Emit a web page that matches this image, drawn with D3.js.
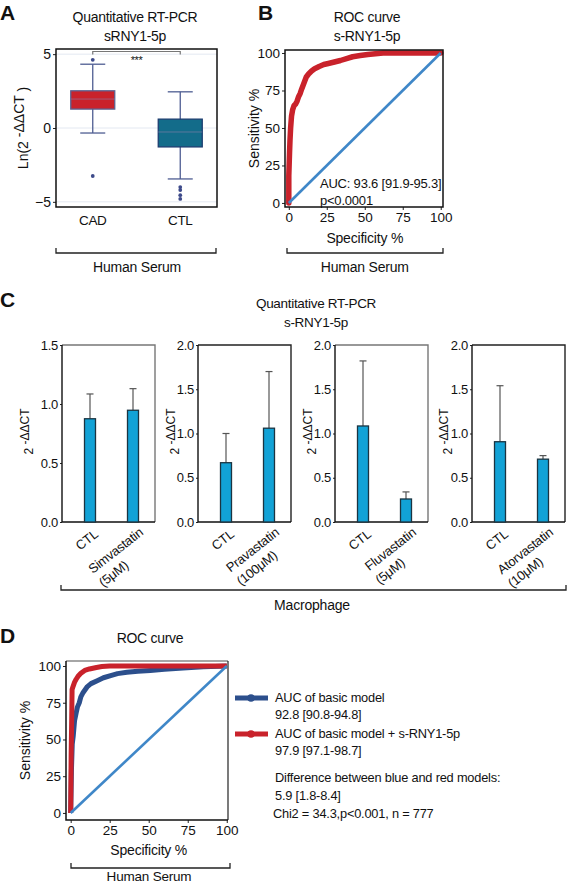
<!DOCTYPE html>
<html><head><meta charset="utf-8">
<script src="https://cdn.jsdelivr.net/npm/d3@7"></script>
<style>
body{margin:0;background:#fff;}
svg text{font-family:"Liberation Sans",Arial,Helvetica,sans-serif;fill:#111;}
</style></head><body>
<svg id="chart" width="568" height="885"></svg>
<script>
// ---------- Panel A : box plot ----------
const boxCategories = ["CAD", "CTL"];
const boxQ1 = [1.28, -1.28];
const boxMedian = [1.96, -0.27];
const boxQ3 = [2.52, 0.6];
const whiskerLow = [-0.34, -3.45];
const whiskerHigh = [4.32, 2.45];
const outliersCAD = [4.62, -3.25];
const outliersCTL = [-4.0, -4.2, -4.55, -4.8];
const boxTicks = [-5, 0, 5];

// ---------- Panel B : ROC ----------
const rocBSpecificity = [0, 0, 0.5, 0.8, 1.2, 1.8, 2.5, 3.5, 4.5, 5.5, 6.5, 7.5, 8.5, 10, 11.5, 13, 15, 17, 20, 23, 26, 30, 34, 38, 42, 47, 52, 57, 62, 70, 80, 90, 95, 100];
const rocBSensitivity = [0, 18, 34, 42, 50, 58, 62, 65, 66, 68, 71, 73, 76, 80, 84, 86, 88, 89.5, 91, 92.3, 93, 94, 95, 96.3, 97.5, 98.3, 99, 99.5, 100, 100, 100, 100, 100, 100];
const rocTicks = [0, 25, 50, 75, 100];
const rocBAnnotation = ["AUC: 93.6 [91.9-95.3]", "p<0.0001"];

// ---------- Panel C : bar charts ----------
const statinNames = ["Simvastatin", "Pravastatin", "Fluvastatin", "Atorvastatin"];
const statinDoses = ["(5μM)", "(100μM)", "(5μM)", "(10μM)"];
const ctlMeans = [0.875, 0.67, 1.085, 0.907];
const ctlErrorTops = [1.085, 1.0, 1.82, 1.54];
const statinMeans = [0.947, 1.06, 0.26, 0.71];
const statinErrorTops = [1.13, 1.70, 0.34, 0.75];
const cYMax = [1.5, 2.0, 2.0, 2.0];

// ---------- Panel D : ROC comparison ----------
const basicSpecificity = [0, 0.5, 1, 1.6, 2.5, 3.5, 4.3, 5.5, 6.5, 8, 10.7, 13, 17, 21, 25.6, 30, 36, 43, 51, 60, 72, 85, 100];
const basicSensitivity = [0, 30, 47, 52, 63, 68, 72, 75, 79, 82, 86, 88, 90, 92, 93.5, 94.8, 95.7, 96.4, 97, 97.8, 98.7, 99.4, 100];
const fullSpecificity = [0, 0.3, 0.6, 0.9, 1.5, 2.5, 3.5, 4.7, 6.5, 9, 12, 16.5, 20, 25, 40, 60, 80, 100];
const fullSensitivity = [0, 40, 60, 84, 86, 89, 91, 93, 95, 97, 98, 99, 99.6, 100, 100, 100, 100, 100];
const legendLabels = ["AUC of basic model", "AUC of basic model + s-RNY1-5p"];
const legendValues = ["92.8 [90.8-94.8]", "97.9 [97.1-98.7]"];
const noteLines = ["Difference between blue and red models:", "5.9 [1.8-8.4]", "Chi2 = 34.3,p<0.001, n = 777"];

// ---------- colours ----------
const RED = "#c9222b", TEAL = "#136c8a", NAVY = "#2c4f8c", DIAG = "#3f87c8", BAR = "#12a2d6";
const FONT = '"Liberation Sans", Arial, Helvetica, sans-serif';

const svg = d3.select("#chart");

function text(g, x, y, s, size, opts = {}) {
  const t = g.append("text").attr("x", x).attr("y", y).text(s)
    .attr("font-size", size).attr("text-anchor", opts.anchor || "start");
  if (opts.weight) t.attr("font-weight", opts.weight);
  if (opts.ls !== undefined) t.attr("letter-spacing", opts.ls);
  return t;
}
function styleAxis(g, size) {
  g.select(".domain").remove();
  g.attr("font-family", FONT);
  g.selectAll(".tick line").attr("stroke", "#222");
  g.selectAll(".tick text").attr("font-size", size).attr("fill", "#111");
}
function bracket(g, x1, x2, y) {
  g.append("path").attr("d", `M${x1},${y - 5}V${y}H${x2}V${y - 5}`)
    .attr("fill", "none").attr("stroke", "#222").attr("stroke-width", 1.3);
}
function rotLabel(g, x, y, parts, size) {
  const t = g.append("text").attr("transform", `translate(${x},${y}) rotate(-90)`)
    .attr("text-anchor", "middle").attr("font-size", size);
  parts.forEach(p => {
    const ts = t.append("tspan").text(p.t);
    if (p.dy) ts.attr("dy", p.dy);
  });
  return t;
}

// ================= Panel A =================
{
  const g = svg.append("g");
  const L = 56, R = 217, T = 49, B = 207;
  const x = d3.scalePoint().domain(boxCategories).range([L, R]).padding(0.42);
  const y = d3.scaleLinear().domain([-5.35, 5.35]).range([B, T]);
  text(g, 0, 20, "A", 21, {weight: "bold"});
  text(g, 135, 22, "Quantitative RT-PCR", 14, {anchor: "middle", ls: -0.3});
  text(g, 135, 41, "sRNY1-5p", 14, {anchor: "middle", ls: -0.3});
  g.selectAll("line.grid").data(boxTicks).join("line").attr("class", "grid")
    .attr("x1", L).attr("x2", R).attr("y1", d => y(d)).attr("y2", d => y(d))
    .attr("stroke", "#e3e8f1").attr("stroke-width", 1);
  const ax = g.append("g").attr("transform", `translate(${L},0)`)
    .call(d3.axisLeft(y).tickValues(boxTicks).tickSize(3).tickPadding(2));
  styleAxis(ax, 14);
  const boxW = 44, capW = 25;
  boxCategories.forEach((c, i) => {
    const cx = x(c);
    const col = i === 0 ? RED : TEAL;
    const wcol = "#4e5d92";
    g.append("line").attr("x1", cx).attr("x2", cx).attr("y1", y(whiskerHigh[i])).attr("y2", y(whiskerLow[i]))
      .attr("stroke", wcol).attr("stroke-width", 1.3);
    [whiskerHigh[i], whiskerLow[i]].forEach(v => g.append("line")
      .attr("x1", cx - capW / 2).attr("x2", cx + capW / 2).attr("y1", y(v)).attr("y2", y(v))
      .attr("stroke", wcol).attr("stroke-width", 1.3));
    g.append("rect").attr("x", cx - boxW / 2).attr("width", boxW)
      .attr("y", y(boxQ3[i])).attr("height", y(boxQ1[i]) - y(boxQ3[i]))
      .attr("fill", col).attr("stroke", i === 0 ? "#5b6391" : "#1d3d70").attr("stroke-width", 1.3);
    g.append("line").attr("x1", cx - boxW / 2).attr("x2", cx + boxW / 2)
      .attr("y1", y(boxMedian[i])).attr("y2", y(boxMedian[i]))
      .attr("stroke", "#8a7fa8").attr("stroke-opacity", 0.6).attr("stroke-width", 1);
  });
  const outl = outliersCAD.map(v => ({c: "CAD", v})).concat(outliersCTL.map(v => ({c: "CTL", v})));
  g.selectAll("circle.out").data(outl).join("circle").attr("class", "out")
    .attr("cx", d => x(d.c)).attr("cy", d => y(d.v)).attr("r", 1.9).attr("fill", "#3d4a8a");
  g.append("rect").attr("x", L).attr("y", T).attr("width", R - L).attr("height", B - T)
    .attr("fill", "none").attr("stroke", "#111").attr("stroke-width", 1.5);
  // significance
  const sy = y(5.18);
  g.append("path").attr("d", `M${x("CAD")},${sy + 3}V${sy}H${x("CTL")}V${sy + 3}`)
    .attr("fill", "none").attr("stroke", "#777").attr("stroke-width", 1.2);
  text(g, (x("CAD") + x("CTL")) / 2, sy + 12, "***", 11, {anchor: "middle", ls: -0.5});
  boxCategories.forEach(c => text(g, x(c), 225, c, 13.5, {anchor: "middle", ls: -0.3}));
  rotLabel(g, 28, (T + B) / 2, [{t: "Ln(2 "}, {t: "-ΔΔCT", dy: "-0.3em"}, {t: " )", dy: "0.3em"}], 14);
  bracket(g, L, R - 1, 253);
  text(g, 137, 272, "Human Serum", 14, {anchor: "middle", ls: -0.2});
}

// ================= Panel B =================
{
  const g = svg.append("g");
  const L = 285, R = 443, T = 50, B = 207;
  const x = d3.scaleLinear().domain([-2.5, 101.5]).range([L, R]);
  const y = d3.scaleLinear().domain([-2.7, 102]).range([B, T]);
  text(g, 258, 20, "B", 21, {weight: "bold"});
  text(g, 367, 22, "ROC curve", 14, {anchor: "middle", ls: -0.3});
  text(g, 367, 41, "s-RNY1-5p", 14, {anchor: "middle", ls: -0.3});
  const ay = g.append("g").attr("transform", `translate(${L},0)`)
    .call(d3.axisLeft(y).tickValues(rocTicks).tickSize(3).tickPadding(2));
  styleAxis(ay, 13.5);
  const axx = g.append("g").attr("transform", `translate(0,${B})`)
    .call(d3.axisBottom(x).tickValues(rocTicks).tickSize(3).tickPadding(2));
  styleAxis(axx, 13.5);
  const pts = rocBSpecificity.map((s, i) => [s, rocBSensitivity[i]]);
  const line = d3.line().x(d => x(d[0])).y(d => y(d[1]));
  g.append("path").attr("d", line(pts)).attr("fill", "none").attr("stroke", RED)
    .attr("stroke-width", 5.5).attr("stroke-linejoin", "round").attr("stroke-linecap", "round");
  g.append("path").attr("d", line([[0, 0], [100, 100]])).attr("fill", "none")
    .attr("stroke", DIAG).attr("stroke-width", 2.6);
  g.append("rect").attr("x", L).attr("y", T).attr("width", R - L).attr("height", B - T)
    .attr("fill", "none").attr("stroke", "#111").attr("stroke-width", 1.5);
  text(g, x(20.5), 188, rocBAnnotation[0], 13, {ls: -0.2});
  text(g, x(20.5), 205, rocBAnnotation[1], 13, {ls: -0.2});
  text(g, x(50), 243, "Specificity %", 14, {anchor: "middle", ls: -0.2});
  rotLabel(g, 259, (T + B) / 2, [{t: "Sensitivity %"}], 14);
  bracket(g, L + 2, R, 253);
  text(g, x(50), 272, "Human Serum", 14, {anchor: "middle", ls: -0.2});
}

// ================= Panel C =================
{
  const g = svg.append("g");
  text(g, 0, 307, "C", 21, {weight: "bold"});
  text(g, 316, 308, "Quantitative RT-PCR", 13.5, {anchor: "middle", ls: -0.3});
  text(g, 316, 327, "s-RNY1-5p", 13.5, {anchor: "middle", ls: -0.3});
  const lefts = [62, 198, 335, 472], W = 93, T = 345, B = 522;
  const labelOff = [-29, -19, -19, -20];
  const frameCol = ["#777", "#222", "#777", "#222"];
  statinNames.forEach((name, i) => {
    const x0 = lefts[i];
    const cats = ["CTL", name];
    const x = d3.scalePoint().domain(cats).range([x0 + 28, x0 + 71]);
    const y = d3.scaleLinear().domain([0, cYMax[i]]).range([B, T]);
    const means = [ctlMeans[i], statinMeans[i]];
    const tops = [ctlErrorTops[i], statinErrorTops[i]];
    const ticks = d3.range(0, cYMax[i] + 0.01, 0.5);
    const ax = g.append("g").attr("transform", `translate(${x0},0)`)
      .call(d3.axisLeft(y).tickValues(ticks).tickFormat(d3.format(".1f")).tickSize(2).tickPadding(2));
    styleAxis(ax, 13);
    ax.selectAll(".tick text").attr("letter-spacing", -0.3);
    // frame
    g.append("path").attr("d", `M${x0},${T}H${x0 + W}V${B}`).attr("fill", "none")
      .attr("stroke", frameCol[i]).attr("stroke-width", 1.4);
    g.append("path").attr("d", `M${x0},${T}V${B}H${x0 + W}`).attr("fill", "none")
      .attr("stroke", "#111").attr("stroke-width", 1.4);
    cats.forEach((c, j) => {
      const cx = x(c);
      g.append("line").attr("x1", cx).attr("x2", cx).attr("y1", y(means[j])).attr("y2", y(tops[j]))
        .attr("stroke", "#555").attr("stroke-width", 1.2);
      g.append("line").attr("x1", cx - 3.5).attr("x2", cx + 3.5).attr("y1", y(tops[j])).attr("y2", y(tops[j]))
        .attr("stroke", "#555").attr("stroke-width", 1.2);
      g.append("rect").attr("x", cx - 5.5).attr("width", 11)
        .attr("y", y(means[j])).attr("height", y(0) - y(means[j]))
        .attr("fill", BAR).attr("stroke", "#1b3441").attr("stroke-width", 1.3);
    });
    // rotated category labels
    const ang = -38;
    const g1 = g.append("g").attr("transform", `translate(${x("CTL") + 9},${B + 14}) rotate(${ang})`);
    g1.append("text").attr("text-anchor", "end").attr("font-size", 13).attr("letter-spacing", -0.2).text("CTL");
    const g2 = g.append("g").attr("transform", `translate(${x(name) + 11},${B + 12}) rotate(${ang})`);
    const t1 = g2.append("text").attr("text-anchor", "end").attr("font-size", 13).attr("letter-spacing", -0.2).text(name);
    const len = t1.node().getComputedTextLength();
    g2.append("text").attr("x", -len).attr("y", 17).attr("font-size", 13).attr("letter-spacing", -0.2).text(statinDoses[i]);
    // y label
    rotLabel(g, x0 + labelOff[i], (T + B) / 2 - 2, [{t: "2 "}, {t: "-ΔΔCT", dy: "-0.35em"}], 12);
  });
  bracket(g, 61, 566, 590);
  text(g, 312, 610, "Macrophage", 14, {anchor: "middle", ls: -0.2});
}

// ================= Panel D =================
{
  const g = svg.append("g");
  const L = 66, R = 228, T = 661, B = 820;
  const x = d3.scaleLinear().domain([-3, 100.8]).range([L, R]);
  const y = d3.scaleLinear().domain([-4.8, 103.4]).range([B, T]);
  text(g, 0, 643, "D", 21, {weight: "bold"});
  text(g, 150, 643, "ROC curve", 14, {anchor: "middle", ls: -0.3});
  const ay = g.append("g").attr("transform", `translate(${L},0)`)
    .call(d3.axisLeft(y).tickValues(rocTicks).tickSize(3).tickPadding(2));
  styleAxis(ay, 13.5);
  const axx = g.append("g").attr("transform", `translate(0,${B})`)
    .call(d3.axisBottom(x).tickValues(rocTicks).tickSize(3).tickPadding(2));
  styleAxis(axx, 13.5);
  const line = d3.line().x(d => x(d[0])).y(d => y(d[1]));
  const basic = basicSpecificity.map((s, i) => [s, basicSensitivity[i]]);
  const full = fullSpecificity.map((s, i) => [s, fullSensitivity[i]]);
  g.append("path").attr("d", line(basic)).attr("fill", "none").attr("stroke", NAVY)
    .attr("stroke-width", 5).attr("stroke-linejoin", "round");
  g.append("path").attr("d", line(full)).attr("fill", "none").attr("stroke", RED)
    .attr("stroke-width", 5).attr("stroke-linejoin", "round");
  g.append("path").attr("d", line([[0, 0], [100, 100]])).attr("fill", "none")
    .attr("stroke", DIAG).attr("stroke-width", 2.6);
  g.append("path").attr("d", `M${L},${T}H${R}`).attr("stroke", "#888").attr("stroke-width", 1.6);
  g.append("path").attr("d", `M${R},${T}V${B}`).attr("stroke", "#222").attr("stroke-width", 1.2);
  g.append("path").attr("d", `M${L},${T}V${B}H${R}`).attr("fill", "none").attr("stroke", "#111").attr("stroke-width", 1.5);
  text(g, x(50), 855, "Specificity %", 14, {anchor: "middle", ls: -0.2});
  rotLabel(g, 30, (T + B) / 2, [{t: "Sensitivity %"}], 14);
  bracket(g, 71, 230, 868);
  text(g, 149, 881, "Human Serum", 13.5, {anchor: "middle", ls: -0.2});
  // legend
  const legY = [698, 734];
  const legCol = [NAVY, RED];
  legendLabels.forEach((lab, i) => {
    g.append("line").attr("x1", 235).attr("x2", 268).attr("y1", legY[i]).attr("y2", legY[i])
      .attr("stroke", legCol[i]).attr("stroke-width", 5);
    g.append("circle").attr("cx", 251).attr("cy", legY[i]).attr("r", 3.8).attr("fill", legCol[i]);
    text(g, 275, legY[i] + 4, lab, 12.8, {ls: -0.2});
    text(g, 275, legY[i] + 20.5, legendValues[i], 12.8, {ls: -0.2});
  });
  const noteY = [781.5, 799.5, 817.5];
  noteLines.forEach((s, i) => text(g, i === 2 ? 273 : 275, noteY[i], s, 12.8, {ls: -0.2}));
}
</script>
</body></html>
